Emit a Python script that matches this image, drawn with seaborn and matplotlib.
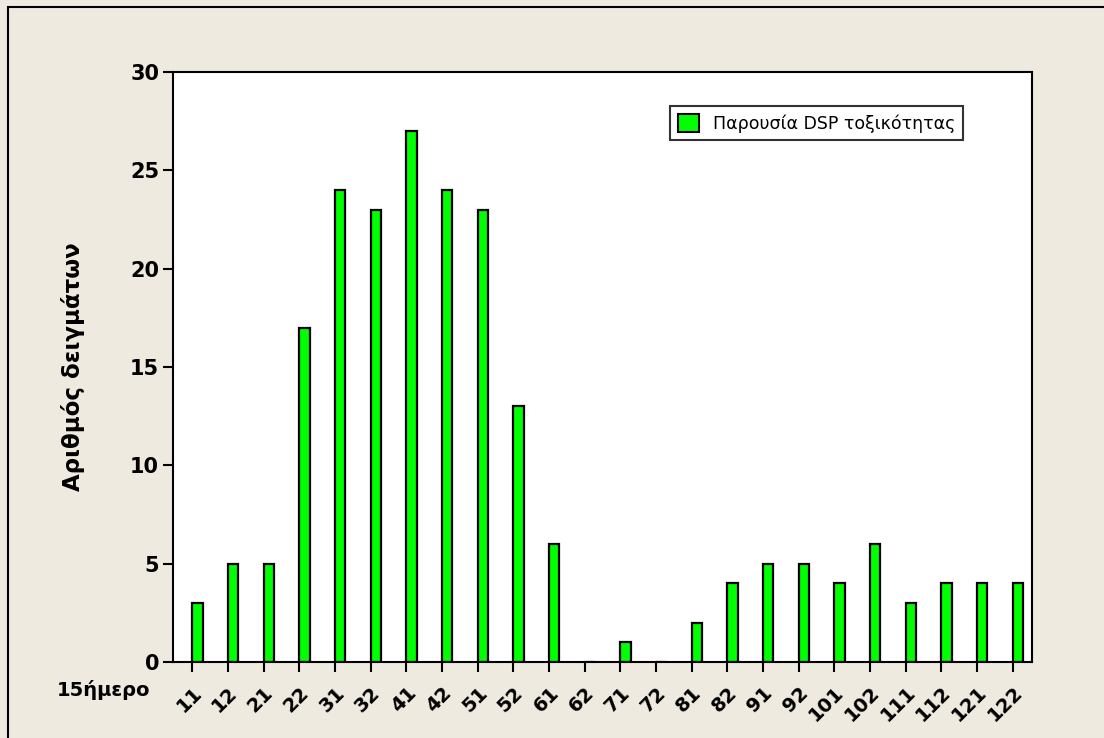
import matplotlib
matplotlib.use("Agg")
import matplotlib.pyplot as plt
import matplotlib.patches as mpatches
import seaborn as sns
import pandas as pd

# Fortnight codes (month + half) and number of samples with DSP toxicity
periods = ["11", "12", "21", "22", "31", "32", "41", "42", "51", "52", "61", "62",
           "71", "72", "81", "82", "91", "92", "101", "102", "111", "112", "121", "122"]
counts = [3, 5, 5, 17, 24, 23, 27, 24, 23, 13, 6, 0,
          1, 0, 2, 4, 5, 5, 4, 6, 3, 4, 4, 4]
series_name = "Παρουσία DSP τοξικότητας"
placeholder = "_"  # empty slot to the left of each bar

df = pd.DataFrame({"period": periods, "count": counts, "series": series_name})

sns.set_style("white")
plt.rcParams["font.family"] = ["DejaVu Sans"]
plt.rcParams["text.color"] = "black"
plt.rcParams["axes.labelcolor"] = "black"
plt.rcParams["xtick.color"] = "black"
plt.rcParams["ytick.color"] = "black"

bg = "#EEEAE0"
fig = plt.figure(figsize=(11.04, 7.38), dpi=100, facecolor=bg)
ax = fig.add_axes([0.1567, 0.1030, 0.7781, 0.7994])
ax.set_facecolor("white")

sns.barplot(data=df, x="period", y="count", hue="series",
            hue_order=[placeholder, series_name], order=periods,
            palette={placeholder: "#00FF00", series_name: "#00FF00"},
            saturation=1, width=0.58, dodge=True, edgecolor="black",
            linewidth=1.6, legend=False, ax=ax)

ax.set_xlim(-0.54, len(periods) - 1 + 0.54)
ax.set_ylim(0, 30)
ax.set_yticks([0, 5, 10, 15, 20, 25, 30])

for s in ax.spines.values():
    s.set_visible(True)
    s.set_color("black")
    s.set_linewidth(1.5)

ax.tick_params(axis="both", direction="out", length=7, width=1.5, color="black",
               labelcolor="black", bottom=True, left=True)
ax.tick_params(axis="y", labelsize=15, pad=3)
ax.tick_params(axis="x", labelsize=14, pad=8)
for lab in ax.get_yticklabels():
    lab.set_fontweight("bold")
for lab in ax.get_xticklabels():
    lab.set_fontweight("bold")
    lab.set_rotation(45)
    lab.set_ha("right")
    lab.set_va("top")
    lab.set_rotation_mode("anchor")

ax.set_xlabel("")
ax.set_ylabel("Αριθμός δειγμάτων", fontsize=16.5, fontweight="bold", color="black")
ax.yaxis.set_label_coords(-0.102, 0.5)

fig.text(57 / 1104, 1 - 690 / 738, "15ήμερο", fontsize=14, fontweight="bold",
         ha="left", va="center", color="black")

handle = mpatches.Patch(facecolor="#00FF00", edgecolor="black", linewidth=1.5)
leg = ax.legend([handle], [series_name], loc="upper left",
                bbox_to_anchor=((670 - 173) / 859, (662 - 106) / 590),
                frameon=True, fancybox=False, fontsize=12.5,
                handlelength=1.2, handleheight=1.2, handletextpad=0.8,
                borderpad=0.45, borderaxespad=0)
leg.get_frame().set_edgecolor("black")
leg.get_frame().set_linewidth(1.5)
for t in leg.get_texts():
    t.set_color("black")

# Outer frame line along the left and top edges of the figure
fig.patches.append(mpatches.Rectangle((8 / 1104, -0.1), 1.2, 1 - 7 / 738 + 0.1,
                                      transform=fig.transFigure, fill=False,
                                      edgecolor="black", linewidth=1.5))

fig.savefig("out.png", dpi=100, facecolor=bg)
